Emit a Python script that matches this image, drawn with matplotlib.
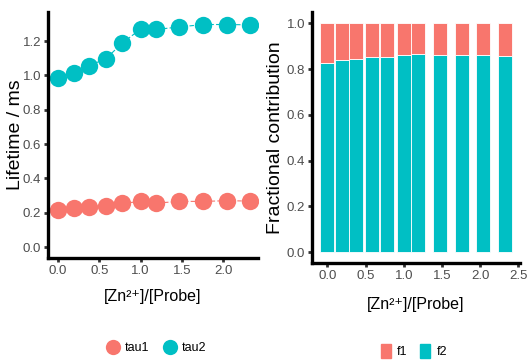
import matplotlib
matplotlib.use("Agg")
import matplotlib.pyplot as plt
from matplotlib.lines import Line2D
from matplotlib.patches import Patch
from matplotlib.ticker import FormatStrFormatter

plt.rcParams['font.family'] = ['Liberation Sans', 'DejaVu Sans']

ratio = [0.0, 0.19, 0.38, 0.58, 0.78, 1.0, 1.19, 1.47, 1.76, 2.04, 2.32]
tau1 = [0.217, 0.227, 0.236, 0.242, 0.254, 0.266, 0.256, 0.266, 0.266, 0.270, 0.268]
tau2 = [0.983, 1.016, 1.058, 1.097, 1.190, 1.270, 1.268, 1.283, 1.297, 1.297, 1.295]
f2 = [0.827, 0.841, 0.844, 0.854, 0.852, 0.862, 0.865, 0.863, 0.860, 0.860, 0.859]
f1 = [1 - v for v in f2]
xlabel = '[Zn²⁺]/[Probe]'

RED = '#F8766D'
TEAL = '#00BFC4'
TICKC = '#4D4D4D'

fig = plt.figure(figsize=(5.28, 3.6), dpi=100)
ax1 = fig.add_axes([0.0909, 0.2833, 0.3977, 0.6834])
ax2 = fig.add_axes([0.5909, 0.2694, 0.3939, 0.6973])

for ax in (ax1, ax2):
    for s in ('top', 'right'):
        ax.spines[s].set_visible(False)
    for s in ('left', 'bottom'):
        ax.spines[s].set_linewidth(2.4)
        ax.spines[s].set_color('black')
    ax.tick_params(axis='both', length=3, width=2, color='#333333',
                   labelcolor=TICKC, labelsize=9.5, pad=2)
    ax.xaxis.set_major_formatter(FormatStrFormatter('%.1f'))
    ax.yaxis.set_major_formatter(FormatStrFormatter('%.1f'))

ax1.plot(ratio, tau1, color=RED, ls=(0, (4, 2)), lw=0.8, marker='o',
         ms=12.5, mec='none')
ax1.plot(ratio, tau2, color=TEAL, ls=(0, (4, 2)), lw=0.8, marker='o',
         ms=12.5, mec='none')
ax1.set_xlim(-0.12, 2.42)
ax1.set_ylim(-0.064, 1.37)
ax1.set_xticks([0, 0.5, 1.0, 1.5, 2.0])
ax1.set_yticks([0, 0.2, 0.4, 0.6, 0.8, 1.0, 1.2])
ax1.set_ylabel('Lifetime / ms', fontsize=14)
ax1.yaxis.set_label_coords(-0.115, 0.5)
ax1.set_xlabel(xlabel, fontsize=11.5, labelpad=9)

ax2.bar(ratio, f2, width=0.18, color=TEAL, edgecolor='white', linewidth=0.6)
ax2.bar(ratio, f1, bottom=f2, width=0.18, color=RED, edgecolor='white', linewidth=0.6)
ax2.set_xlim(-0.2, 2.52)
ax2.set_ylim(-0.047, 1.05)
ax2.set_xticks([0, 0.5, 1.0, 1.5, 2.0, 2.5])
ax2.set_yticks([0, 0.2, 0.4, 0.6, 0.8, 1.0])
ax2.set_ylabel('Fractional contribution', fontsize=14)
ax2.yaxis.set_label_coords(-0.135, 0.5)
ax2.set_xlabel(xlabel, fontsize=11.5, labelpad=10.5)

h1 = [Line2D([], [], ls='none', marker='o', ms=11, color=RED, mec='none'),
      Line2D([], [], ls='none', marker='o', ms=11, color=TEAL, mec='none')]
fig.legend(h1, ['tau1', 'tau2'], loc='center', bbox_to_anchor=(156 / 528, 1 - 348 / 360),
           ncol=2, frameon=False, fontsize=9, handlelength=1.2, handletextpad=0.4,
           columnspacing=1.0)
h2 = [Patch(color=RED), Patch(color=TEAL)]
fig.legend(h2, ['f1', 'f2'], loc='center', bbox_to_anchor=(414 / 528, 1 - 351 / 360),
           ncol=2, frameon=False, fontsize=9, handlelength=0.8, handleheight=1.3,
           handletextpad=0.5, columnspacing=1.0)

fig.savefig('out.png', dpi=100)
